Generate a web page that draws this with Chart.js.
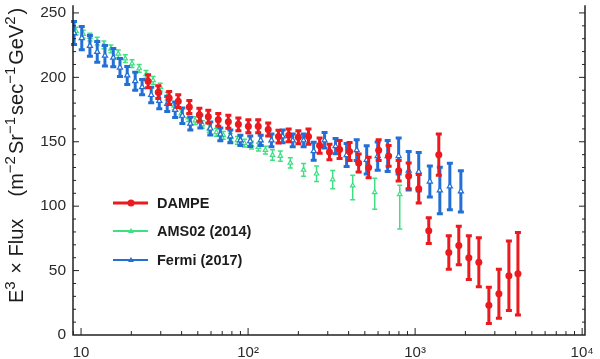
<!DOCTYPE html>
<html>
<head>
<meta charset="utf-8">
<script src="https://cdn.jsdelivr.net/npm/chart.js@4/dist/chart.umd.min.js"></script>
<style>
  html, body { margin: 0; padding: 0; background: #fff; }
  #wrap { width: 600px; height: 359px; position: relative; }
</style>
</head>
<body>
<div id="wrap"><canvas id="chart"></canvas></div>
<script>
// DAMPE
const dampeE = [25.2, 29.0, 33.7, 38.2, 44.5, 51.1, 57.8, 66.3, 76.2, 87.5, 100.4, 115, 132, 152, 175, 200, 230, 268, 307, 353, 405, 459, 527, 605, 694, 797, 915, 1051, 1207, 1386, 1591, 1826, 2097, 2407, 2764, 3173, 3643, 4126];
const dampeFlux = [197, 188.5, 184, 181.5, 177, 171, 169.5, 167, 165.5, 163.5, 162, 162, 159.5, 154, 155, 153.5, 154, 147, 142, 144, 142.5, 133.5, 130, 143.5, 139, 127.5, 123.5, 113.5, 81, 140, 64, 69.5, 60, 56.5, 23, 32, 46, 47.5];
const dampeErr = [5, 5, 5, 5, 5, 5, 5, 5, 5, 5, 5, 5, 5, 5, 5, 5, 6, 6, 6, 7, 7, 7, 8, 8, 8, 8, 10, 11, 10, 16, 13, 15, 17, 19, 14, 19, 27, 32];

// AMS02 (2014)
const amsE = [9.33, 10.3, 11.3, 12.5, 13.7, 15.1, 16.7, 18.4, 20.2, 22.3, 24.5, 27.0, 29.8, 32.8, 36.1, 39.8, 43.9, 48.3, 53.2, 58.6, 64.6, 71.1, 78.3, 86.3, 95.1, 104.7, 115.3, 127, 140, 156, 179, 215, 257, 321, 423, 573, 809];
const amsFlux = [235.9, 233.6, 231.3, 228.2, 225.2, 222.1, 218.3, 214.5, 210.7, 206.9, 202.3, 197.7, 192.4, 185.5, 177.9, 171.8, 168.7, 166.4, 163.4, 160.3, 157.3, 155, 153.4, 151.1, 148.9, 147.3, 145.8, 143.5, 139.7, 138.9, 133.6, 128.2, 125.2, 120.6, 116, 110.7, 109.2];
const amsErrHi = [3, 3, 3, 3, 3, 3, 3, 3, 3, 3, 3, 3, 3, 3, 3, 3, 3, 3, 3, 3, 3, 3, 3, 3, 3, 3, 3, 3, 4, 4, 4, 5, 6, 7, 8, 11, 7];
const amsErrLo = [3, 3, 3, 3, 3, 3, 3, 3, 3, 3, 3, 3, 3, 3, 3, 3, 3, 3, 3, 3, 3, 3, 3, 3, 3, 3, 3, 3, 4, 4, 4, 5, 6, 7, 11, 13, 27];

// Fermi (2017)
const fermiE = [9.08, 10.1, 11.3, 12.5, 13.9, 15.6, 17.1, 18.9, 21.1, 23.2, 26.3, 29.4, 32.8, 36.6, 40.4, 45.1, 51.8, 59.4, 68.2, 78.3, 89.9, 103, 119, 138, 161, 185, 215, 247, 287, 334, 389, 447, 513, 597, 685, 797, 915, 1051, 1225, 1406, 1614, 1879];
const fermiFlux = [234.4, 230.5, 224.4, 219.8, 216.8, 215.3, 207.6, 201.5, 197, 192.4, 186.3, 181.7, 179.4, 174.8, 170.2, 164.1, 165.6, 160.3, 155.7, 154.2, 151.1, 150.4, 151.1, 151.1, 154.2, 151.1, 151.1, 142.7, 151.1, 146.6, 139.7, 143.5, 135.9, 138.9, 138.9, 138.9, 127.5, 126.7, 119.1, 112.2, 115.3, 111.5];
const fermiErr = [9, 9, 8, 8, 8, 7, 7, 7, 7, 6, 6, 6, 6, 6, 6, 5, 5, 5, 5, 5, 4, 4, 4, 5, 5, 5, 5, 7, 6, 6, 9, 8, 11, 11, 12, 14, 15, 15, 12, 18, 18, 16];

const xTickValues = [10, 100, 1000, 10000];
const xTickLabels = ['10', '10²', '10³', '10⁴'];
const yTickValues = [0, 50, 100, 150, 200, 250];

const FONT = "'Liberation Sans', Arial, sans-serif";
const RED = '#ea1a1e', GREEN = '#3ee083', BLUE = '#2270d6';

const pts = (xs, ys) => xs.map((x, i) => ({ x, y: ys[i] }));

// error bars drawn just before each dataset's markers
const errorBars = {
    id: 'errorBars',
    beforeDatasetDraw(chart, args) {
        const ds = chart.data.datasets[args.index];
        const y = chart.scales.y, ctx = chart.ctx;
        ctx.save();
        ctx.strokeStyle = ds.errColor;
        ctx.lineWidth = ds.errWidth;
        args.meta.data.forEach((p, i) => {
            const v = ds.data[i].y;
            const top = y.getPixelForValue(v + ds.errHi[i]);
            const bot = y.getPixelForValue(v - ds.errLo[i]);
            ctx.beginPath();
            ctx.moveTo(p.x, top); ctx.lineTo(p.x, bot);
            ctx.moveTo(p.x - ds.capW, top); ctx.lineTo(p.x + ds.capW, top);
            ctx.moveTo(p.x - ds.capW, bot); ctx.lineTo(p.x + ds.capW, bot);
            ctx.stroke();
        });
        ctx.restore();
    }
};

// axis lines and inward ticks
const frame = {
    id: 'frame',
    afterDatasetsDraw(chart) {
        const { ctx, chartArea: a, scales: { x, y } } = chart;
        ctx.save();
        ctx.strokeStyle = '#222';
        ctx.lineWidth = 1.5;
        ctx.beginPath();
        ctx.moveTo(a.left, a.top); ctx.lineTo(a.left, a.bottom); ctx.lineTo(a.right, a.bottom); ctx.lineTo(a.right, a.top);
        ctx.stroke();
        ctx.lineWidth = 1;
        ctx.beginPath();
        for (let v = 10; v <= 250; v += 10) {
            const p = y.getPixelForValue(v);
            const len = v % 50 === 0 ? 6 : 3;
            ctx.moveTo(a.left, p); ctx.lineTo(a.left + len, p);
            ctx.moveTo(a.right, p); ctx.lineTo(a.right - len, p);
        }
        for (let d = 1; d <= 10000; d *= 10) {
            for (let m = 1; m < 10; m++) {
                const v = d * m;
                if (v < x.min || v > x.max) continue;
                const p = x.getPixelForValue(v);
                const len = m === 1 ? 7 : 4;
                ctx.moveTo(p, a.bottom); ctx.lineTo(p, a.bottom - len);
            }
        }
        ctx.stroke();
        ctx.restore();
    }
};

// rotated y title with real superscripts
const yTitle = {
    id: 'yTitle',
    afterDraw(chart) {
        const ctx = chart.ctx;
        const parts = [['E'], ['3', 1], [' \u00d7 Flux    ('], ['m'], ['\u22122', 1], ['Sr'], ['\u22121', 1], ['sec'], ['\u22121', 1], ['GeV'], ['2', 1], [')']];
        ctx.save();
        ctx.translate(23, 303);
        ctx.rotate(-Math.PI / 2);
        ctx.fillStyle = '#1c1c1c';
        ctx.textBaseline = 'alphabetic';
        let cx = 0;
        parts.forEach(([t, sup]) => {
            ctx.font = sup ? `15px ${FONT}` : `20px ${FONT}`;
            ctx.fillText(t, cx, sup ? -8 : 0);
            cx += ctx.measureText(t).width + (sup ? 2 : 0);
        });
        ctx.restore();
    }
};

// legend inside the plot
const innerLegend = {
    id: 'innerLegend',
    afterDraw(chart) {
        const ctx = chart.ctx;
        const rows = [203, 231, 260];
        ctx.save();
        chart.data.datasets.forEach((ds, i) => {
            const ly = rows[i];
            ctx.strokeStyle = ds.errColor;
            ctx.lineWidth = i === 0 ? 3 : 2;
            ctx.beginPath(); ctx.moveTo(113, ly); ctx.lineTo(148, ly); ctx.stroke();
            ctx.fillStyle = ds.errColor;
            ctx.beginPath();
            if (ds.pointStyle === 'circle') {
                ctx.arc(131, ly, 3.5, 0, Math.PI * 2);
            } else {
                ctx.moveTo(131, ly - 3); ctx.lineTo(134, ly + 2); ctx.lineTo(128, ly + 2); ctx.closePath();
            }
            ctx.fill();
            ctx.fillStyle = '#1c1c1c';
            ctx.font = `bold 14.5px ${FONT}`;
            ctx.textBaseline = 'middle';
            ctx.fillText(ds.label, 157, ly + 1);
        });
        ctx.restore();
    }
};

new Chart(document.getElementById('chart'), {
    type: 'scatter',
    data: {
        datasets: [
            {
                label: 'DAMPE', data: pts(dampeE, dampeFlux), errHi: dampeErr, errLo: dampeErr,
                errColor: RED, errWidth: 3, capW: 3,
                pointStyle: 'circle', pointRadius: 3.5, backgroundColor: RED, borderColor: RED, borderWidth: 0, order: 1
            },
            {
                label: 'AMS02 (2014)', data: pts(amsE, amsFlux), errHi: amsErrHi, errLo: amsErrLo,
                errColor: GREEN, errWidth: 1.5, capW: 2.5,
                pointStyle: 'triangle', pointRadius: 2.6, backgroundColor: '#fff', borderColor: GREEN, borderWidth: 1.2, order: 3
            },
            {
                label: 'Fermi (2017)', data: pts(fermiE, fermiFlux), errHi: fermiErr, errLo: fermiErr,
                errColor: BLUE, errWidth: 3, capW: 3,
                pointStyle: 'triangle', pointRadius: 3, backgroundColor: '#fff', borderColor: BLUE, borderWidth: 1.2, order: 2
            }
        ]
    },
    options: {
        responsive: true, maintainAspectRatio: false, animation: false, devicePixelRatio: 1,
        layout: { padding: { left: 0, right: 15, top: 0, bottom: 0 } },
        plugins: { legend: { display: false }, tooltip: { enabled: false } },
        scales: {
            x: {
                type: 'logarithmic', min: 8.95, max: 10400,
                grid: { display: false, drawTicks: false }, border: { display: false },
                afterBuildTicks: s => { s.ticks = xTickValues.map(v => ({ value: v })); },
                afterFit: s => { s.height = 24; s.paddingLeft = 0; s.paddingRight = 0; },
                ticks: {
                    autoSkip: false, maxRotation: 0, padding: 9, color: '#2a2a2a',
                    font: { family: FONT, size: 15 },
                    callback: v => xTickLabels[xTickValues.indexOf(v)] ?? ''
                }
            },
            y: {
                min: 0, max: 256,
                grid: { display: false, drawTicks: false }, border: { display: false },
                afterBuildTicks: s => { s.ticks = yTickValues.map(v => ({ value: v })); },
                afterFit: s => { s.width = 73; s.paddingTop = 0; s.paddingBottom = 0; },
                ticks: { padding: 7, color: '#2a2a2a', font: { family: FONT, size: 15.5 } }
            }
        }
    },
    plugins: [errorBars, frame, yTitle, innerLegend]
});
</script>
</body>
</html>
